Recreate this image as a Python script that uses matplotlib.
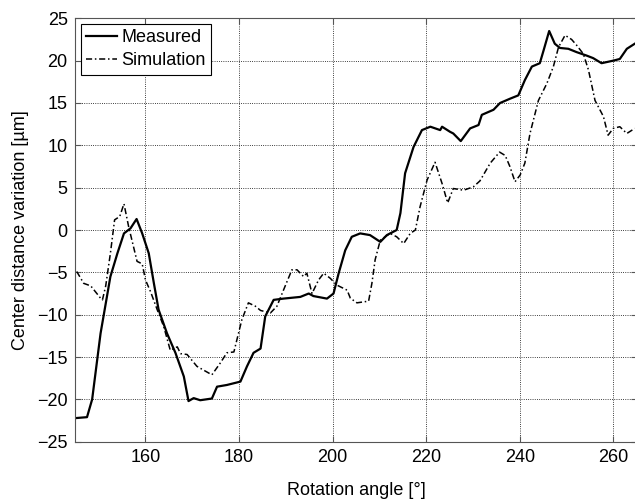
import matplotlib
matplotlib.use("Agg")
import matplotlib.pyplot as plt

# values
meas_x = [145.3, 147.5, 148.6, 150.4, 152.5, 154.0, 155.4, 156.8, 158.1, 159.3,
          160.7, 161.8, 162.8, 164.6, 166.4, 168.2, 169.2, 170.3, 171.7, 174.2,
          175.3, 177.4, 180.3, 181.7, 183.1, 184.6, 185.6, 187.4, 189.5, 193.1,
          194.9, 195.9, 198.8, 200.2, 201.3, 202.7, 204.1, 205.9, 208.0, 210.2,
          211.6, 213.7, 214.5, 215.5, 217.3, 219.1, 220.9, 223.0, 223.4, 225.1,
          225.8, 227.4, 229.4, 231.2, 231.9, 234.4, 235.8, 237.9, 239.7, 241.1,
          242.6, 244.3, 245.1, 246.3, 247.5, 248.6, 250.4, 252.2, 254.3, 255.7,
          257.5, 260.0, 261.4, 262.9, 264.6]
meas_y = [-22.2, -22.1, -20.0, -12.2, -5.5, -2.75, -0.4, 0.2, 1.3, -0.4,
          -2.75, -6.3, -9.4, -12.2, -14.5, -17.3, -20.2, -19.85, -20.1, -19.9,
          -18.5, -18.3, -17.9, -16.1, -14.5, -14.0, -10.2, -8.25, -8.1, -7.9,
          -7.5, -7.8, -8.1, -7.5, -5.1, -2.4, -0.8, -0.4, -0.6, -1.4,
          -0.6, 0.0, 2.0, 6.7, 9.8, 11.8, 12.2, 11.8, 12.2, 11.6,
          11.4, 10.5, 12.0, 12.4, 13.6, 14.2, 15.0, 15.5, 15.9, 17.7,
          19.3, 19.7, 21.2, 23.5, 22.0, 21.5, 21.4, 21.0, 20.6, 20.3,
          19.7, 20.0, 20.2, 21.4, 22.0]

sim_x = [145.3, 146.8, 148.3, 150.4, 150.8, 151.5, 152.5, 153.4, 154.5, 155.4,
         156.4, 158.2, 159.3, 160.0, 161.1, 162.5, 163.9, 165.3, 166.8, 167.5,
         168.9, 171.0, 174.2, 176.0, 177.4, 178.9, 180.6, 182.0, 183.5, 184.6,
         186.7, 188.1, 189.5, 191.3, 192.4, 193.8, 194.5, 195.6, 197.0, 198.1,
         199.5, 200.9, 203.1, 203.8, 205.2, 207.7, 208.4, 209.1, 210.2, 212.3,
         213.7, 215.2, 216.6, 217.7, 218.7, 220.2, 221.9, 223.4, 224.6, 225.8,
         228.0, 230.1, 231.5, 233.7, 235.7, 236.9, 237.9, 239.0, 240.1, 241.1,
         242.2, 244.0, 245.8, 247.2, 248.3, 249.7, 251.1, 252.2, 253.6, 254.7,
         256.1, 257.9, 258.9, 260.0, 261.4, 262.9, 264.6]
sim_y = [-4.9, -6.3, -6.6, -8.05, -8.25, -6.6, -2.75, 1.2, 1.6, 3.1,
         0.4, -3.7, -4.0, -5.9, -7.3, -9.4, -11.4, -14.2, -13.8, -14.6,
         -14.7, -16.1, -17.1, -15.7, -14.5, -14.4, -10.6, -8.6, -9.0, -9.5,
         -9.8, -9.0, -7.1, -4.7, -4.7, -5.5, -5.1, -7.5, -5.9, -5.1,
         -5.7, -6.5, -7.1, -8.05, -8.6, -8.4, -6.3, -3.5, -1.2, -0.4,
         -0.8, -1.6, -0.4, 0.0, 2.75, 5.9, 8.0, 5.5, 3.2, 4.9,
         4.7, 5.1, 5.8, 7.9, 9.2, 8.8, 7.5, 5.7, 6.5, 7.9,
         11.4, 15.3, 17.3, 19.3, 21.6, 23.0, 22.5, 21.8, 20.8, 18.9,
         15.3, 13.4, 11.2, 12.0, 12.2, 11.4, 12.0]

x_ticks = [160, 180, 200, 220, 240, 260]
y_ticks = [-25, -20, -15, -10, -5, 0, 5, 10, 15, 20, 25]

plt.rcParams["font.family"] = ["Liberation Sans", "DejaVu Sans"]
plt.rcParams["font.size"] = 13

fig = plt.figure(figsize=(6.35, 4.99), dpi=100)
ax = fig.add_axes([0.1186, 0.1148, 0.884, 0.8485])

ax.plot(meas_x, meas_y, color="black", lw=1.6, ls="-", label="Measured")
ax.plot(sim_x, sim_y, color="black", lw=1.1, ls=(0, (4, 1.8, 1, 1.8)),
        label="Simulation")

ax.set_xlim(145, 265)
ax.set_ylim(-25, 25)
ax.set_xticks(x_ticks)
ax.set_yticks(y_ticks)
ax.grid(True, color="black", ls=":", lw=0.6)
ax.tick_params(direction="in", top=True, right=True, length=4, pad=5.5,
               color="#555555")
for s in ax.spines.values():
    s.set_color("#555555")

ax.set_xlabel("Rotation angle [°]", labelpad=11)
ax.set_ylabel("Center distance variation [µm]", labelpad=6)

leg = ax.legend(loc="upper left", fancybox=False, framealpha=1, edgecolor="black",
                borderaxespad=0.3, handlelength=1.7, handletextpad=0.25,
                borderpad=0.3, labelspacing=0.35)
leg.get_frame().set_linewidth(0.8)

fig.savefig("out.png", dpi=100)
